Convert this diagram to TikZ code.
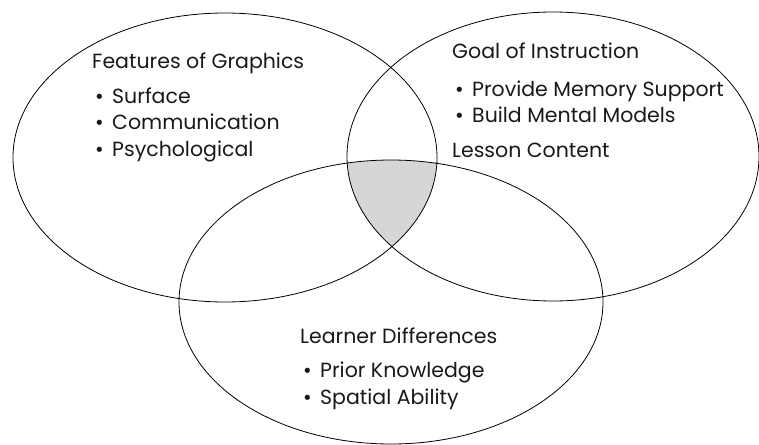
\documentclass[tikz,border=0pt]{standalone}
\usepackage{fontspec}
\setmainfont{Poppins}
\newfontfamily\dvfont{DejaVu Sans}
\begin{document}
\begin{tikzpicture}[x=1pt,y=-1pt,
  ring/.style={draw=black, line width=0.8pt},
  lbl/.style={anchor=base west, inner sep=0pt, font=\fontsize{20.5}{24}\selectfont, text=black!90},
  shade/.style={fill=black!16}]
\useasboundingbox (0,0) rectangle (759,444);
\newcommand{\bul}[1]{\makebox[18pt][l]{{\dvfont\fontsize{18}{20}\selectfont •}}#1}
\begin{scope}
  \clip (225,157.5) ellipse [x radius=212, y radius=144.5];
  \clip (553,156.5) ellipse [x radius=206, y radius=144.5];
  \fill[shade] (391,302) ellipse [x radius=212, y radius=142];
\end{scope}
\draw[ring] (225,157.5) ellipse [x radius=212, y radius=144.5];
\draw[ring] (553,156.5) ellipse [x radius=206, y radius=144.5];
\draw[ring] (391,302) ellipse [x radius=212, y radius=142];
\node[lbl] (fg) at (92,68) {Features of Graphics};
\node[lbl] (fg1) at (94,103) {\bul{Surface}};
\node[lbl] (fg2) at (94,129.5) {\bul{Communication}};
\node[lbl] (fg3) at (94,156) {\bul{Psychological}};
\node[lbl] (gi) at (452,58) {Goal of Instruction};
\node[lbl] (gi1) at (454,96) {\bul{Provide Memory Support}};
\node[lbl] (gi2) at (454,122) {\bul{Build Mental Models}};
\node[lbl] (lc) at (452,157) {Lesson Content};
\node[lbl] (ld) at (300,343) {Learner Differences};
\node[lbl] (ld1) at (302,377) {\bul{Prior Knowledge}};
\node[lbl] (ld2) at (302,404) {\bul{Spatial Ability}};
\end{tikzpicture}
\end{document}
